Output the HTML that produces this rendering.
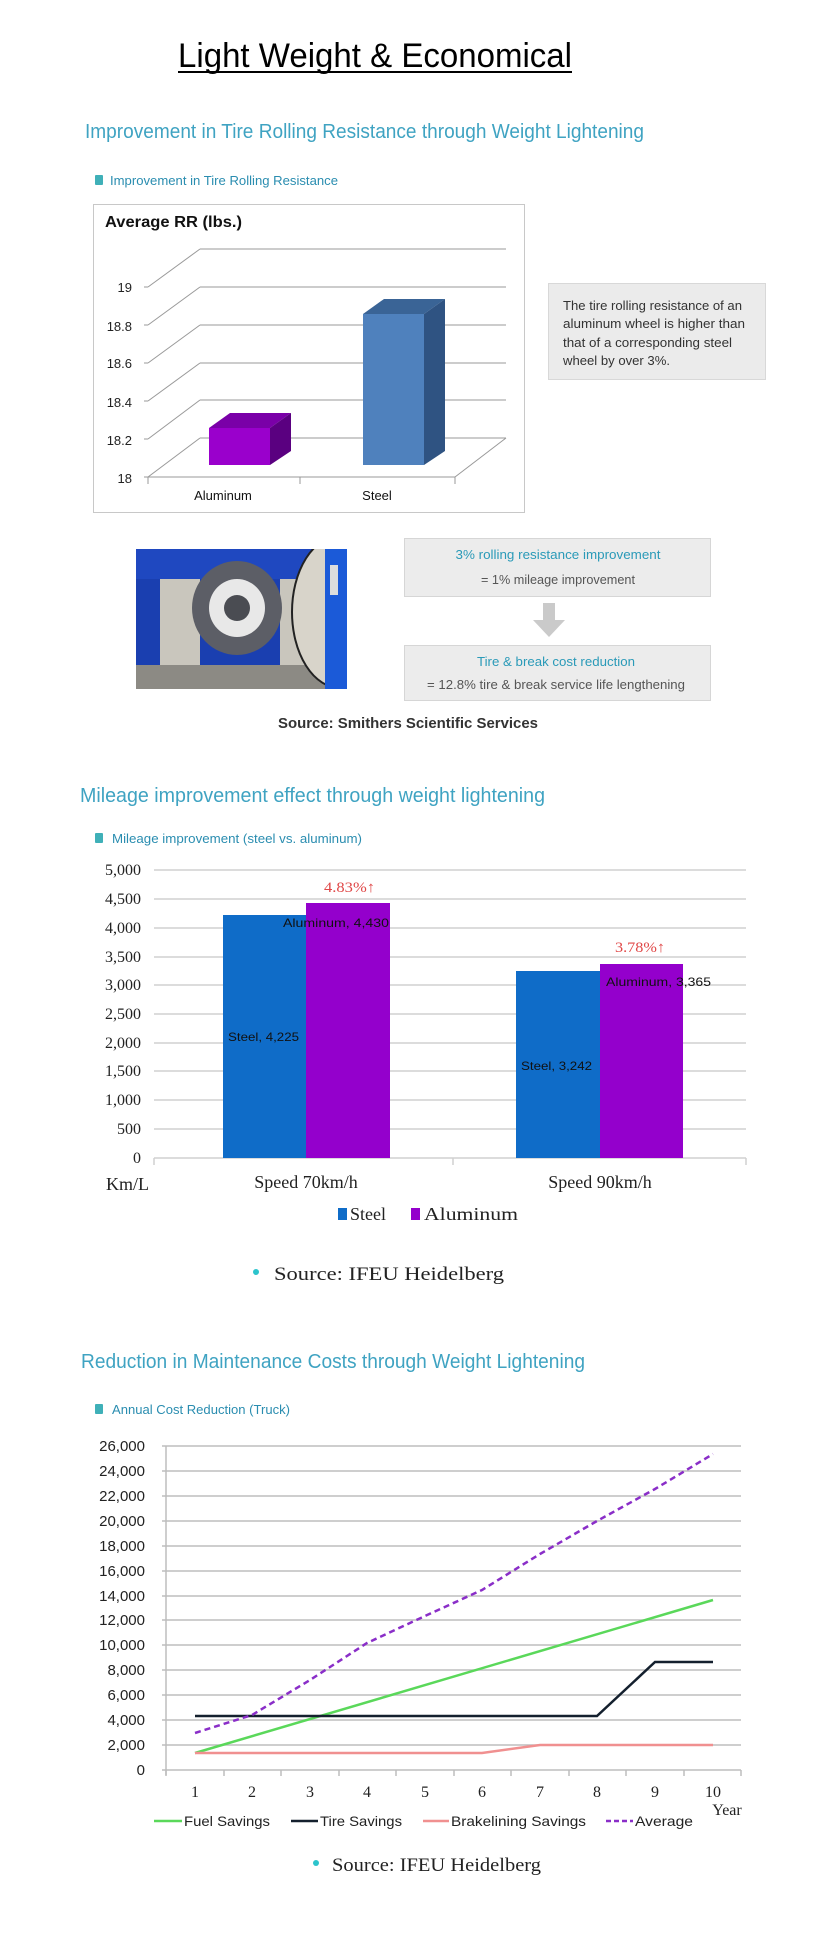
<!DOCTYPE html>
<html><head><meta charset="utf-8"><style>html,body{margin:0;padding:0;background:#fff}svg{display:block}</style></head>
<body>
<svg width="825" height="1940" viewBox="0 0 825 1940" xmlns="http://www.w3.org/2000/svg" font-family="Liberation Sans, sans-serif">
<defs><clipPath id="ph"><rect x="136" y="549" width="211" height="140"/></clipPath></defs>
<rect width="825" height="1940" fill="#fff"/>
<!-- Title -->
<text x="178" y="67" font-size="34" fill="#000" textLength="394" lengthAdjust="spacingAndGlyphs">Light Weight &amp; Economical</text>
<rect x="178" y="71" width="394" height="2" fill="#000"/>

<!-- Section 1 -->
<text x="85" y="138" font-size="20" fill="#3fa3c2" textLength="559" lengthAdjust="spacingAndGlyphs">Improvement in Tire Rolling Resistance through Weight Lightening</text>
<rect x="95" y="175" width="8" height="10" fill="#3fb0b8" rx="1"/>
<text x="110" y="185" font-size="13" fill="#2a8db0" textLength="228" lengthAdjust="spacingAndGlyphs">Improvement in Tire Rolling Resistance</text>

<rect x="93.5" y="204.5" width="431" height="308" fill="#fff" stroke="#c8c8c8"/>
<text x="105" y="227" font-size="16" font-weight="bold" fill="#111" textLength="137" lengthAdjust="spacingAndGlyphs">Average RR  (lbs.)</text>
<g stroke="#999" stroke-width="1" fill="none">
<line x1="200" y1="249" x2="506" y2="249"/><line x1="200" y1="287" x2="506" y2="287"/><line x1="200" y1="325" x2="506" y2="325"/>
<line x1="200" y1="363" x2="506" y2="363"/><line x1="200" y1="400" x2="506" y2="400"/><line x1="200" y1="438" x2="506" y2="438"/>
<line x1="148" y1="287" x2="200" y2="249"/><line x1="148" y1="325" x2="200" y2="287"/><line x1="148" y1="363" x2="200" y2="325"/>
<line x1="148" y1="401" x2="200" y2="363"/><line x1="148" y1="439" x2="200" y2="400"/><line x1="148" y1="477" x2="200" y2="438"/>
<line x1="148" y1="477" x2="455" y2="477"/><line x1="455" y1="477" x2="506" y2="438"/>
<line x1="148" y1="477" x2="148" y2="484"/><line x1="300" y1="477" x2="300" y2="484"/><line x1="455" y1="477" x2="455" y2="484"/>
<line x1="144" y1="287" x2="148" y2="287"/><line x1="144" y1="325" x2="148" y2="325"/><line x1="144" y1="363" x2="148" y2="363"/><line x1="144" y1="401" x2="148" y2="401"/><line x1="144" y1="439" x2="148" y2="439"/><line x1="144" y1="477" x2="148" y2="477"/>
</g>
<g font-size="13" fill="#222" text-anchor="end">
<text x="132" y="292">19</text><text x="132" y="331">18.8</text><text x="132" y="368">18.6</text><text x="132" y="407">18.4</text><text x="132" y="445">18.2</text><text x="132" y="483">18</text>
</g>
<polygon points="209,428 230,413 291,413 270,428" fill="#7a00a8"/>
<polygon points="270,428 291,413 291,451 270,465" fill="#5a0080"/>
<rect x="209" y="428" width="61" height="37" fill="#9a00cc"/>
<polygon points="363,314 384,299 445,299 424,314" fill="#3a6496"/>
<polygon points="424,314 445,299 445,451 424,465" fill="#2f5382"/>
<rect x="363" y="314" width="61" height="151" fill="#4f81bd"/>
<text x="223" y="500" font-size="13" fill="#111" text-anchor="middle">Aluminum</text>
<text x="377" y="500" font-size="13" fill="#111" text-anchor="middle">Steel</text>

<rect x="548.5" y="283.5" width="217" height="96" fill="#ebebeb" stroke="#d8d8d8"/>
<g font-size="12.5" fill="#333">
<text x="563" y="310" textLength="179" lengthAdjust="spacingAndGlyphs">The tire rolling resistance of an</text>
<text x="563" y="328" textLength="182" lengthAdjust="spacingAndGlyphs">aluminum wheel is higher than</text>
<text x="563" y="347" textLength="169" lengthAdjust="spacingAndGlyphs">that of a corresponding steel</text>
<text x="563" y="365" textLength="107" lengthAdjust="spacingAndGlyphs">wheel by over 3%.</text>
</g>

<!-- Photo -->
<g clip-path="url(#ph)">
<rect x="136" y="549" width="211" height="140" fill="#1a3fb0"/>
<rect x="136" y="549" width="211" height="30" fill="#1f48c0"/>
<rect x="160" y="579" width="40" height="90" fill="#c9c6bd"/>
<rect x="280" y="579" width="25" height="100" fill="#c9c6bd"/>
<rect x="136" y="665" width="211" height="24" fill="#8c8a84"/>
<ellipse cx="340" cy="612" rx="48" ry="76" fill="#d8d4ca" stroke="#222" stroke-width="2"/>
<rect x="325" y="549" width="22" height="140" fill="#1b5ad8"/>
<rect x="330" y="565" width="8" height="30" fill="#ddd"/>
<ellipse cx="237" cy="608" rx="45" ry="47" fill="#5c5e66"/>
<ellipse cx="237" cy="608" rx="28" ry="29" fill="#e8e8e8"/>
<ellipse cx="237" cy="608" rx="13" ry="13" fill="#4a4c52"/>
</g>

<rect x="404.5" y="538.5" width="306" height="58" fill="#ececec" stroke="#d6d6d6"/>
<text x="558" y="559" font-size="12.5" fill="#2a9ab8" text-anchor="middle" textLength="205" lengthAdjust="spacingAndGlyphs">3% rolling resistance improvement</text>
<text x="558" y="584" font-size="12.5" fill="#555" text-anchor="middle" textLength="154" lengthAdjust="spacingAndGlyphs">=  1% mileage improvement</text>
<polygon points="543,603 555,603 555,620 565,620 549,637 533,620 543,620" fill="#cacaca"/>
<rect x="404.5" y="645.5" width="306" height="55" fill="#ececec" stroke="#d6d6d6"/>
<text x="556" y="666" font-size="12.5" fill="#2a9ab8" text-anchor="middle" textLength="158" lengthAdjust="spacingAndGlyphs">Tire &amp; break cost reduction</text>
<text x="556" y="689" font-size="12.5" fill="#555" text-anchor="middle" textLength="258" lengthAdjust="spacingAndGlyphs">= 12.8% tire &amp; break service life lengthening</text>
<text x="408" y="728" font-size="15" font-weight="bold" fill="#333" text-anchor="middle" textLength="260" lengthAdjust="spacingAndGlyphs">Source: Smithers Scientific Services</text>

<!-- Section 2 -->
<text x="80" y="802" font-size="20" fill="#3fa3c2" textLength="465" lengthAdjust="spacingAndGlyphs">Mileage improvement effect through weight lightening</text>
<rect x="95" y="833" width="8" height="10" fill="#3fb0b8" rx="1"/>
<text x="112" y="843" font-size="13" fill="#2a8db0" textLength="250" lengthAdjust="spacingAndGlyphs">Mileage improvement (steel vs. aluminum)</text>
<g stroke="#d0d0d0" stroke-width="1.5">
<line x1="154" y1="870" x2="746" y2="870"/><line x1="154" y1="899" x2="746" y2="899"/><line x1="154" y1="928" x2="746" y2="928"/>
<line x1="154" y1="957" x2="746" y2="957"/><line x1="154" y1="985" x2="746" y2="985"/><line x1="154" y1="1014" x2="746" y2="1014"/>
<line x1="154" y1="1043" x2="746" y2="1043"/><line x1="154" y1="1071" x2="746" y2="1071"/><line x1="154" y1="1100" x2="746" y2="1100"/>
<line x1="154" y1="1129" x2="746" y2="1129"/><line x1="154" y1="1158" x2="746" y2="1158"/>
<line x1="154" y1="1158" x2="154" y2="1165"/><line x1="453" y1="1158" x2="453" y2="1165"/><line x1="746" y1="1158" x2="746" y2="1165"/>
</g>
<g font-family="Liberation Serif, serif" font-size="16" fill="#222" text-anchor="end">
<text x="141" y="875">5,000</text><text x="141" y="904">4,500</text><text x="141" y="933">4,000</text><text x="141" y="962">3,500</text>
<text x="141" y="990">3,000</text><text x="141" y="1019">2,500</text><text x="141" y="1048">2,000</text><text x="141" y="1076">1,500</text>
<text x="141" y="1105">1,000</text><text x="141" y="1134">500</text><text x="141" y="1163">0</text>
</g>
<rect x="223" y="915" width="83" height="243" fill="#0f6cc8"/>
<rect x="306" y="903" width="84" height="255" fill="#9400cc"/>
<rect x="516" y="971" width="84" height="187" fill="#0f6cc8"/>
<rect x="600" y="964" width="83" height="194" fill="#9400cc"/>
<g font-size="12" fill="#111">
<text x="283" y="927" textLength="106" lengthAdjust="spacingAndGlyphs">Aluminum, 4,430</text>
<text x="228" y="1041" textLength="71" lengthAdjust="spacingAndGlyphs">Steel, 4,225</text>
<text x="521" y="1070" textLength="71" lengthAdjust="spacingAndGlyphs">Steel, 3,242</text>
<text x="606" y="986" textLength="105" lengthAdjust="spacingAndGlyphs">Aluminum, 3,365</text>
</g>
<g font-family="Liberation Serif, serif" font-size="15" fill="#e04848">
<text x="324" y="892" textLength="51" lengthAdjust="spacingAndGlyphs">4.83%↑</text>
<text x="615" y="952" textLength="50" lengthAdjust="spacingAndGlyphs">3.78%↑</text>
</g>
<g font-family="Liberation Serif, serif" font-size="18" fill="#222">
<text x="106" y="1190">Km/L</text>
<text x="306" y="1188" text-anchor="middle">Speed 70km/h</text>
<text x="600" y="1188" text-anchor="middle">Speed 90km/h</text>
<rect x="338" y="1208" width="9" height="12" fill="#0f6cc8"/>
<text x="350" y="1220">Steel</text>
<rect x="411" y="1208" width="9" height="12" fill="#9400cc"/>
<text x="424" y="1220" textLength="94" lengthAdjust="spacingAndGlyphs">Aluminum</text>
</g>
<circle cx="256" cy="1272" r="3" fill="#2cc4cc"/>
<text x="274" y="1280" font-family="Liberation Serif, serif" font-size="19" fill="#222" textLength="230" lengthAdjust="spacingAndGlyphs">Source: IFEU Heidelberg</text>

<!-- Section 3 -->
<text x="81" y="1368" font-size="20" fill="#3fa3c2" textLength="504" lengthAdjust="spacingAndGlyphs">Reduction in Maintenance Costs through Weight Lightening</text>
<rect x="95" y="1404" width="8" height="10" fill="#3fb0b8" rx="1"/>
<text x="112" y="1414" font-size="13" fill="#2a8db0" textLength="178" lengthAdjust="spacingAndGlyphs">Annual Cost Reduction (Truck)</text>
<g stroke="#bdbdbd" stroke-width="1.5">
<line x1="162" y1="1446" x2="741" y2="1446"/><line x1="162" y1="1471" x2="741" y2="1471"/><line x1="162" y1="1496" x2="741" y2="1496"/>
<line x1="162" y1="1521" x2="741" y2="1521"/><line x1="162" y1="1546" x2="741" y2="1546"/><line x1="162" y1="1571" x2="741" y2="1571"/>
<line x1="162" y1="1596" x2="741" y2="1596"/><line x1="162" y1="1620" x2="741" y2="1620"/><line x1="162" y1="1645" x2="741" y2="1645"/>
<line x1="162" y1="1670" x2="741" y2="1670"/><line x1="162" y1="1695" x2="741" y2="1695"/><line x1="162" y1="1720" x2="741" y2="1720"/>
<line x1="162" y1="1745" x2="741" y2="1745"/><line x1="162" y1="1770" x2="741" y2="1770"/>
<line x1="166" y1="1446" x2="166" y2="1775"/>
<line x1="166" y1="1770" x2="166" y2="1776"/><line x1="224" y1="1770" x2="224" y2="1776"/><line x1="281" y1="1770" x2="281" y2="1776"/>
<line x1="339" y1="1770" x2="339" y2="1776"/><line x1="396" y1="1770" x2="396" y2="1776"/><line x1="454" y1="1770" x2="454" y2="1776"/>
<line x1="511" y1="1770" x2="511" y2="1776"/><line x1="569" y1="1770" x2="569" y2="1776"/><line x1="626" y1="1770" x2="626" y2="1776"/>
<line x1="684" y1="1770" x2="684" y2="1776"/><line x1="741" y1="1770" x2="741" y2="1776"/>
</g>
<g font-size="15" fill="#222" text-anchor="end">
<text x="145" y="1451">26,000</text><text x="145" y="1476">24,000</text><text x="145" y="1501">22,000</text><text x="145" y="1526">20,000</text>
<text x="145" y="1551">18,000</text><text x="145" y="1576">16,000</text><text x="145" y="1601">14,000</text><text x="145" y="1625">12,000</text>
<text x="145" y="1650">10,000</text><text x="145" y="1675">8,000</text><text x="145" y="1700">6,000</text><text x="145" y="1725">4,000</text>
<text x="145" y="1750">2,000</text><text x="145" y="1775">0</text>
</g>
<g font-family="Liberation Serif, serif" font-size="16" fill="#222" text-anchor="middle">
<text x="195" y="1797">1</text><text x="252" y="1797">2</text><text x="310" y="1797">3</text><text x="367" y="1797">4</text><text x="425" y="1797">5</text>
<text x="482" y="1797">6</text><text x="540" y="1797">7</text><text x="597" y="1797">8</text><text x="655" y="1797">9</text><text x="713" y="1797">10</text>
<text x="727" y="1815">Year</text>
</g>
<polyline points="195,1753 713,1600" fill="none" stroke="#5ad85a" stroke-width="2.5"/>
<polyline points="195,1716 252,1716 310,1716 367,1716 425,1716 482,1716 540,1716 597,1716 655,1662 713,1662" fill="none" stroke="#14202e" stroke-width="2.5"/>
<polyline points="195,1753 482,1753 540,1745 597,1745 655,1745 713,1745" fill="none" stroke="#f09090" stroke-width="2.5"/>
<polyline points="195,1733 252,1715 310,1680 367,1643 425,1616 482,1590 540,1554 597,1521 655,1489 713,1454" fill="none" stroke="#8a2ec8" stroke-width="2.5" stroke-dasharray="6,4"/>
<g font-size="14" fill="#222">
<line x1="154" y1="1821" x2="182" y2="1821" stroke="#5ad85a" stroke-width="2.5"/>
<text x="184" y="1826" textLength="86" lengthAdjust="spacingAndGlyphs">Fuel Savings</text>
<line x1="291" y1="1821" x2="318" y2="1821" stroke="#14202e" stroke-width="2.5"/>
<text x="320" y="1826" textLength="82" lengthAdjust="spacingAndGlyphs">Tire Savings</text>
<line x1="423" y1="1821" x2="449" y2="1821" stroke="#f09090" stroke-width="2.5"/>
<text x="451" y="1826" textLength="135" lengthAdjust="spacingAndGlyphs">Brakelining Savings</text>
<line x1="606" y1="1821" x2="633" y2="1821" stroke="#8a2ec8" stroke-width="2.5" stroke-dasharray="5,3"/>
<text x="635" y="1826" textLength="58" lengthAdjust="spacingAndGlyphs">Average</text>
</g>
<circle cx="316" cy="1863" r="3" fill="#2cc4cc"/>
<text x="332" y="1871" font-family="Liberation Serif, serif" font-size="19" fill="#222" textLength="209" lengthAdjust="spacingAndGlyphs">Source: IFEU Heidelberg</text>
</svg>
</body></html>
